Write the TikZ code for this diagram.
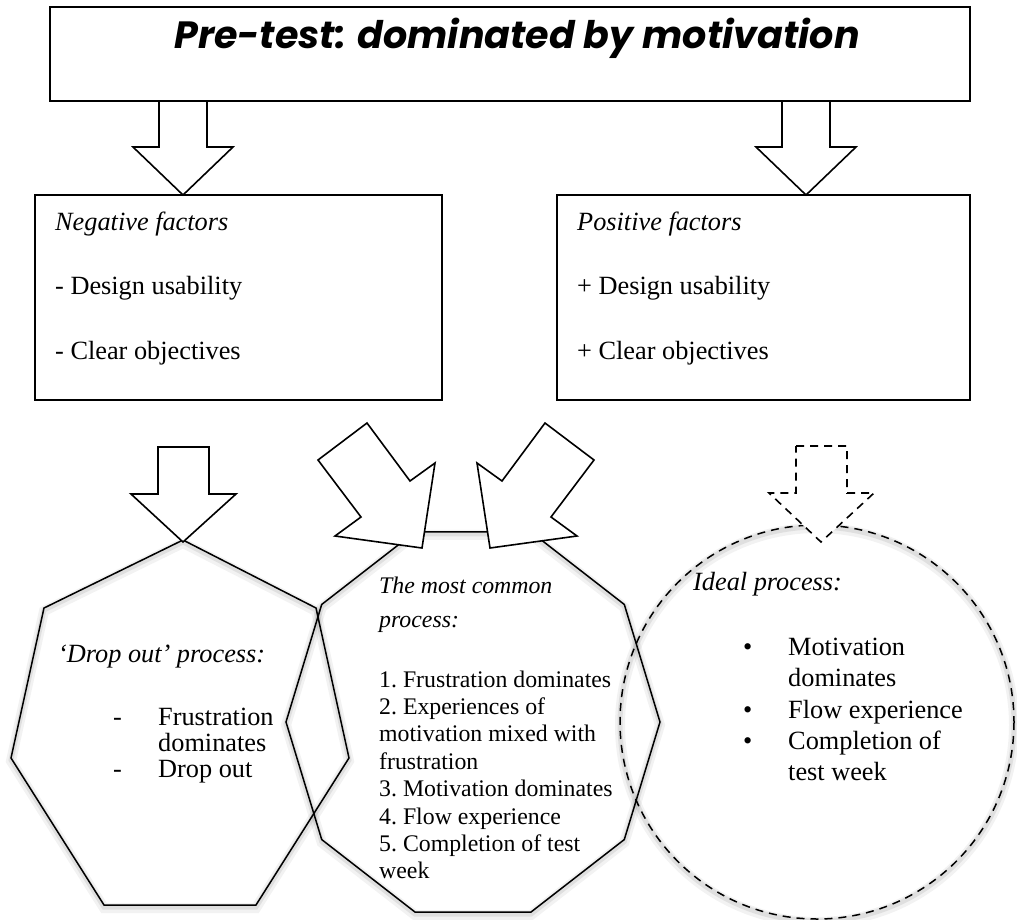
\documentclass[tikz,border=0pt]{standalone}
\usepackage{fontspec}
\setmainfont{Liberation Serif}
\newfontfamily\headfont{Poppins}
\usetikzlibrary{calc}

\tikzset{
	box/.style={draw, line width=2.2pt, inner sep=0pt},
	blockarrow/.style={draw, fill=white, line width=1.6pt, line join=miter},
	outline/.style={draw, line width=1.5pt, line join=miter},
	dashline/.style={dash pattern=on 8pt off 6pt},
	glow/.style={preaction={draw=black, solid, line width=10pt, opacity=.05, transform canvas={yshift=-3pt}},
		preaction={draw=black, solid, line width=5pt, opacity=.08, transform canvas={yshift=-2pt}}},
	txt/.style={anchor=base west, inner sep=0pt, font=\frenchspacing\fontsize{26.3}{30}\selectfont},
	smalltxt/.style={anchor=base west, inner sep=0pt, font=\frenchspacing\fontsize{23.8}{27.4}\selectfont},
}

\begin{document}
\begin{tikzpicture}[x=1pt, y=-1pt]
	\useasboundingbox (0,0) rectangle (1017,919);
	% boxes
	\node [box, line width=2.6pt, minimum width=920pt, minimum height=94pt] (head) at (510,54) {};
	\node [anchor=base, inner sep=0pt, font=\headfont\fontsize{38}{46}\selectfont\bfseries\itshape] (title) at (517,48) {Pre-test: dominated by motivation};
	\node [box, minimum width=407pt, minimum height=205pt] (neg) at (238.5,297.5) {};
	\node [box, minimum width=413pt, minimum height=205pt] (pos) at (763.5,297.5) {};

	% processes
	\draw [outline, glow] (183,540) -- (316,608) -- (349,758) -- (256,905) -- (104,905) -- (11,758) -- (44,608) -- cycle;
	\draw [outline, glow] (660,722) \foreach \a in {36,72,...,324} { -- ($(473,722)+(\a:187pt and 200pt)$) } -- cycle;
	\draw [outline, dashline, glow] (817,722) circle [radius=197];

	% arrows
	\draw [blockarrow] (159,101) -- (207,101) -- (207,147) -- (233,147) -- (183,195) -- (133,147) -- (159,147) -- cycle;
	\draw [blockarrow] (782,101) -- (830,101) -- (830,147) -- (856,147) -- (806,195) -- (756,147) -- (782,147) -- cycle;
	\draw [blockarrow] (158,447) -- (209,447) -- (209,494) -- (236,494) -- (183,542) -- (131,494) -- (158,494) -- cycle;
	\draw [blockarrow] (367,423) -- (410,481) -- (435,463) -- (422,548) -- (335,536) -- (361,517) -- (318,460) -- cycle;
	\draw [blockarrow] (545,423) -- (502,481) -- (477,463) -- (490,548) -- (577,536) -- (551,517) -- (594,460) -- cycle;
	\draw [blockarrow, dashline] (796,446) -- (847,446) -- (847,493) -- (874,493) -- (821,542) -- (769,493) -- (796,493) -- cycle;

	% factors
	\node [txt] (negname) at (55,230) {\itshape Negative factors};
	\node [txt] (neg1) at (55,294) {- Design usability};
	\node [txt] (neg2) at (55,359) {- Clear objectives};
	\node [txt] (posname) at (577,230) {\itshape Positive factors};
	\node [txt] (pos1) at (577,294) {+ Design usability};
	\node [txt] (pos2) at (577,359) {+ Clear objectives};

	% drop out
	\node [txt] (dropname) at (58,662) {\itshape `Drop out' process:};
	\node [txt] (dash1) at (113,725) {-};
	\node [txt] (drop1) at (158,725) {Frustration};
	\node [txt] (drop2) at (158,751) {dominates};
	\node [txt] (dash2) at (113,777) {-};
	\node [txt] (drop3) at (158,777) {Drop out};

	% most common
	\node [smalltxt] (commonname) at (379,593) {\itshape The most common};
	\node [smalltxt] (commonname2) at (379,627) {\itshape process:};
	\node [smalltxt] (common1) at (379,687) {1. Frustration dominates};
	\node [smalltxt] (common2) at (379,714.4) {2. Experiences of};
	\node [smalltxt] (common3) at (379,741.8) {motivation mixed with};
	\node [smalltxt] (common4) at (379,769.2) {frustration};
	\node [smalltxt] (common5) at (379,796.6) {3. Motivation dominates};
	\node [smalltxt] (common6) at (379,824) {4. Flow experience};
	\node [smalltxt] (common7) at (379,851.4) {5. Completion of test};
	\node [smalltxt] (common8) at (379,878.8) {week};

	% ideal
	\node [txt] (idealname) at (693,590) {\itshape Ideal process:};
	\node [txt] (bul1) at (743,655) {•};
	\node [txt] (ideal1) at (788,655) {Motivation};
	\node [txt] (ideal2) at (788,686) {dominates};
	\node [txt] (bul2) at (743,718) {•};
	\node [txt] (ideal3) at (788,718) {Flow experience};
	\node [txt] (bul3) at (743,749) {•};
	\node [txt] (ideal4) at (788,749) {Completion of};
	\node [txt] (ideal5) at (788,780) {test week};
\end{tikzpicture}
\end{document}
